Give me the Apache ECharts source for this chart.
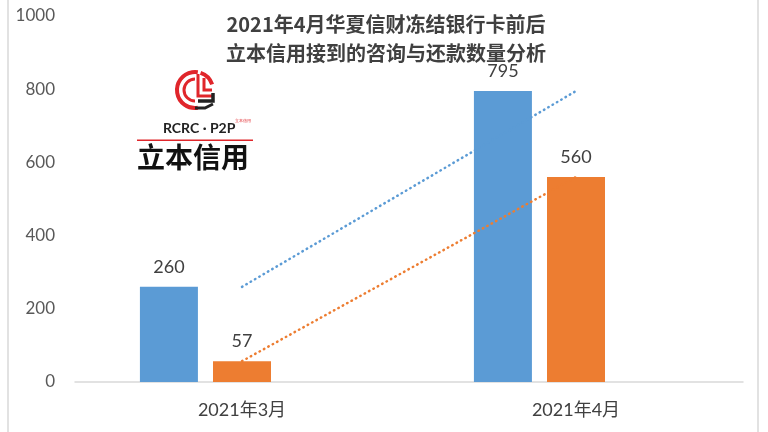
<!DOCTYPE html>
<html><head><meta charset="utf-8">
<script src="https://cdn.jsdelivr.net/npm/echarts@6/dist/echarts.min.js"></script>
<style>html,body{margin:0;padding:0;background:#fff}#c{width:768px;height:432px}</style>
</head><body><div id="c"></div>
<script>
const categories = ['2021年3月', '2021年4月'];
const inquiries = [260, 795];
const repayments = [57, 560];
const yTicks = [0, 200, 400, 600, 800, 1000];
const titleLines = ['2021年4月华夏信财冻结银行卡前后', '立本信用接到的咨询与还款数量分析'];

const BLUE = '#5b9bd5', ORANGE = '#ed7d31';
const chart = echarts.init(document.getElementById('c'));
const labelStyle = {show: true, position: 'top', distance: 11, color: '#404040', fontSize: 18, fontFamily: 'Lato, "Noto Sans CJK SC"'};
const trendStyle = (c) => ({color: c, width: 2.5, type: [0.5, 4.5], cap: 'round'});
chart.setOption({
  animation: false,
  title: {
    text: titleLines.join('\n'),
    left: 381, top: 5, textAlign: 'center',
    textStyle: {fontSize: 20, fontWeight: 'bold', color: '#404040', lineHeight: 29, fontFamily: '"Noto Sans CJK SC"'}
  },
  grid: {left: 75, right: 25, top: 16, bottom: 50},
  xAxis: {
    type: 'category', data: categories,
    axisLine: {lineStyle: {color: '#d9d9d9', width: 1.5}},
    axisTick: {show: false},
    axisLabel: {color: '#404040', fontSize: 18, margin: 19, fontFamily: 'Lato, "Noto Sans CJK SC"'}
  },
  yAxis: {
    type: 'value', min: yTicks[0], max: yTicks[yTicks.length - 1], interval: 200,
    splitLine: {show: false}, axisLine: {show: false}, axisTick: {show: false},
    axisLabel: {color: '#595959', fontSize: 17, margin: 20, fontFamily: 'Lato', formatter: (v) => String(v)}
  },
  series: [
    {type: 'bar', data: inquiries, barWidth: 58, barGap: '26%', itemStyle: {color: BLUE}, label: labelStyle},
    {type: 'bar', data: repayments, barWidth: 58, barGap: '26%', itemStyle: {color: ORANGE}, label: labelStyle},
    {type: 'bar', data: [null, null], barWidth: 58, barGap: '26%'},
    {type: 'line', data: inquiries, symbol: 'none', lineStyle: trendStyle(BLUE), z: 5},
    {type: 'line', data: repayments, symbol: 'none', lineStyle: trendStyle(ORANGE), z: 5}
  ],
  graphic: [
    {type: 'rect', shape: {x: 8, y: -5, width: 750, height: 445}, style: {fill: 'none', stroke: '#d9d9d9', lineWidth: 1.5}, silent: true},
    {type: 'arc', shape: {cx: 195, cy: 90, r: 18, startAngle: Math.PI * 0.45, endAngle: Math.PI * 1.55}, style: {stroke: '#e0262b', lineWidth: 4, fill: 'none'}},
    {type: 'arc', shape: {cx: 195, cy: 90, r: 11, startAngle: Math.PI * 0.5, endAngle: Math.PI * 1.5}, style: {stroke: '#e0262b', lineWidth: 3, fill: 'none'}},
    {type: 'arc', shape: {cx: 195, cy: 90, r: 18, startAngle: Math.PI * 1.6, endAngle: Math.PI * 1.9}, style: {stroke: '#e0262b', lineWidth: 4, fill: 'none'}},
    {type: 'polyline', shape: {points: [[198, 74], [198, 96], [212, 96]]}, style: {stroke: '#e0262b', lineWidth: 3, fill: 'none'}},
    {type: 'polyline', shape: {points: [[204, 78], [204, 90], [212, 90]]}, style: {stroke: '#e0262b', lineWidth: 3, fill: 'none'}},
    {type: 'polyline', shape: {points: [[198, 101], [213, 101], [213, 93]]}, style: {stroke: '#222', lineWidth: 3.5, fill: 'none'}},
    {type: 'polyline', shape: {points: [[195, 108], [205, 108], [213, 104]]}, style: {stroke: '#222', lineWidth: 3, fill: 'none'}},
    {type: 'text', left: 163, top: 121, style: {text: 'RCRC · P2P', fontSize: 14, fontWeight: 'bold', fill: '#222', fontFamily: 'Lato'}},
    {type: 'text', left: 235, top: 119, style: {text: '立本信用', fontSize: 4, fill: '#e0262b'}},
    {type: 'rect', shape: {x: 137, y: 139.5, width: 116, height: 1.5}, style: {fill: '#e0262b'}},
    {type: 'text', left: 137, top: 143, style: {text: '立本信用', fontSize: 28, fontWeight: 'bold', fill: '#111', fontFamily: '"Noto Sans CJK SC"'}}
  ]
});
</script></body></html>
